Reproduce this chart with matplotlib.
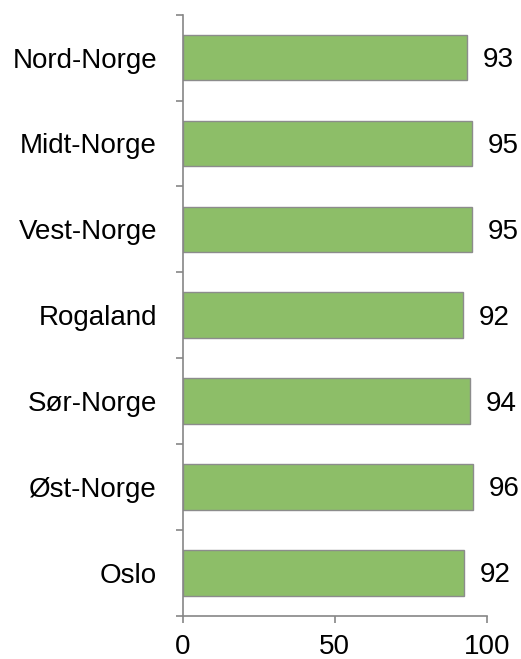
import matplotlib
matplotlib.use("Agg")
import matplotlib.pyplot as plt

categories = ["Nord-Norge", "Midt-Norge", "Vest-Norge", "Rogaland", "Sør-Norge", "Øst-Norge", "Oslo"]
values = [93.4, 95.2, 95.1, 92.3, 94.4, 95.6, 92.4]
xticks = [0, 50, 100]

plt.rcParams['font.family'] = ['Liberation Sans', 'DejaVu Sans']

W, H = 521, 659
fig = plt.figure(figsize=(W / 100, H / 100), dpi=100)
left, right, top, bottom = 182.7, 486.7, 14.7, 615.7
ax = fig.add_axes([left / W, 1 - bottom / H, (right - left) / W, (bottom - top) / H])

n = len(categories)
ypos = list(range(n))[::-1]
ax.barh(ypos, values, height=0.53, color="#8DBE68", edgecolor="#8C8C8C", linewidth=1.0)
for y, v in zip(ypos, values):
    ax.text(v + 5.2, y - 0.03, f"{v:.0f}", va="center", ha="left", fontsize=20, color="#000000")

ax.set_xlim(0, 100)
ax.set_ylim(-0.5, n - 0.5)
ax.set_xticks(xticks)
ax.set_xticklabels([str(t) for t in xticks], fontsize=20)
ax.set_yticks(ypos)
ax.set_yticklabels(categories, fontsize=20)
ax.set_yticks([i - 0.5 for i in range(n + 1)], minor=True)
ax.tick_params(axis="y", which="major", length=0, pad=18.5)
ax.tick_params(axis="y", which="minor", length=5, width=1.2, color="#868686", direction="out")
ax.tick_params(axis="x", which="major", length=5, width=1.2, color="#868686", direction="out", pad=8)

for s in ["top", "right"]:
    ax.spines[s].set_visible(False)
for s in ["left", "bottom"]:
    ax.spines[s].set_color("#868686")
    ax.spines[s].set_linewidth(1.2)

fig.savefig("out.png", dpi=100)
